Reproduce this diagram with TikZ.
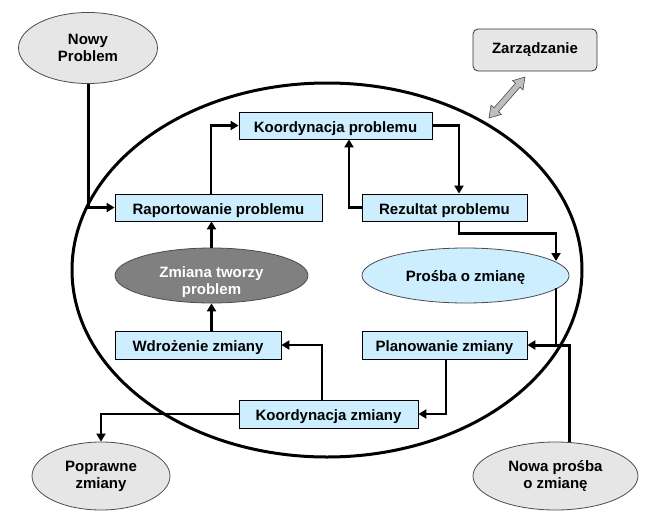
\documentclass[tikz,border=0pt]{standalone}
\usepackage{fontspec}
\setmainfont{Liberation Sans}
\usepackage{xcolor}
\usetikzlibrary{shapes.geometric, arrows.meta}
\definecolor{boxblue}{HTML}{CCEEFF}
\definecolor{cloudgray}{HTML}{E6E6E6}
\definecolor{shadegray}{HTML}{808080}
\definecolor{arrowgray}{HTML}{BEBEBE}

\begin{document}
\begin{tikzpicture}[x=1pt, y=-1pt, >={Triangle[length=8pt,width=9pt]},
    txt/.style={font=\bfseries\fontsize{15}{17}\selectfont},
    box/.style={txt, draw=black, line width=0.8pt, fill=boxblue, inner sep=0pt, text height=13, text depth=0, minimum width=#1, minimum height=27},
    oval/.style={txt, ellipse, draw=black!70, line width=0.8pt, inner sep=0pt, align=center},
    conn/.style={->, line width=2.2pt},
    feed/.style={->, line width=3pt}]
    \useasboundingbox (0,0) rectangle (657,517);

    % Coordinates
    \coordinate (pin) at (556,261);
    \coordinate (pout) at (556,288);
    \coordinate (join) at (556,345);

    % Cycle
    \node[ellipse, draw, line width=3pt, minimum width=510, minimum height=374] (cykl) at (327,270) {};

    % Outside
    \node[oval, fill=cloudgray, minimum width=139, minimum height=71] (nowy) at (88,48) {Nowy\\Problem};
    \node[oval, fill=cloudgray, minimum width=138, minimum height=68] (popr) at (101,476) {Poprawne\\zmiany};
    \node[oval, fill=cloudgray, minimum width=165, minimum height=68] (nowa) at (555.5,476) {Nowa prośba\\o zmianę};
    \node[txt, draw=black!80, line width=0.8pt, rounded corners=5pt, fill=cloudgray, minimum width=124, minimum height=42] (zarz) at (535,50) {Zarządzanie};

    % Boxes
    \node[box=193] (kprob) at (335.5,125.5) {Koordynacja problemu};
    \node[box=207] (rap) at (218.5,207.5) {Raportowanie problemu};
    \node[box=165] (rez) at (444.5,207.5) {Rezultat problemu};
    \node[box=166, minimum height=28] (wdr) at (198,345) {Wdrożenie zmiany};
    \node[box=165, minimum height=28] (plan) at (444.5,345) {Planowanie zmiany};
    \node[box=179, minimum height=28] (kzm) at (328.5,414) {Koordynacja zmiany};

    % Inner ellipses
    \node[oval, fill=boxblue, minimum width=207, minimum height=55, text height=12, text depth=0] (prosba) at (465.5,275.5) {Prośba o zmianę};
    \node[oval, fill=shadegray, minimum width=193, minimum height=55,
          label={[txt, text=white, align=center, yshift=-7]center:{Zmiana tworzy\\problem}}] (zmiana) at (211.5,275.5) {};

    % Management arrow
    \draw[fill=arrowgray, draw=black!70, line width=0.6pt] (525,77) -- (523.0,89.9) -- (520.0,87.2) -- (498.5,111.7) -- (501.5,114.4) -- (489,118) -- (491.0,105.1) -- (494.0,107.8) -- (515.5,83.3) -- (512.5,80.7) -- cycle;

    % Lines
    \draw[feed] (nowy.south) |- (rap.west);
    \draw[conn] ([xshift=-7.5]rap.north) |- (kprob.west);
    \draw[conn] (kprob.east) -| ([xshift=14.5]rez.north);
    \draw[conn] (rez.west) -| ([xshift=13.5]kprob.south);
    \draw[conn] ([xshift=14.5]rez.south) -- ++(0,12) -| (pin);
    \draw[line width=2.2pt] (pout) -- (join);
    \draw[feed] ([xshift=13.5]nowa.north) |- (plan.east);
    \draw[conn] ([xshift=1.5]plan.south) |- (kzm.east);
    \draw[conn] ([xshift=-6.5]kzm.north) |- (wdr.east);
    \draw[conn] (wdr.north -| zmiana.south) -- (zmiana.south);
    \draw[conn] (zmiana.north) -- (rap.south -| zmiana.north);
    \draw[conn] (kzm.west) -| (popr.north);
\end{tikzpicture}
\end{document}
